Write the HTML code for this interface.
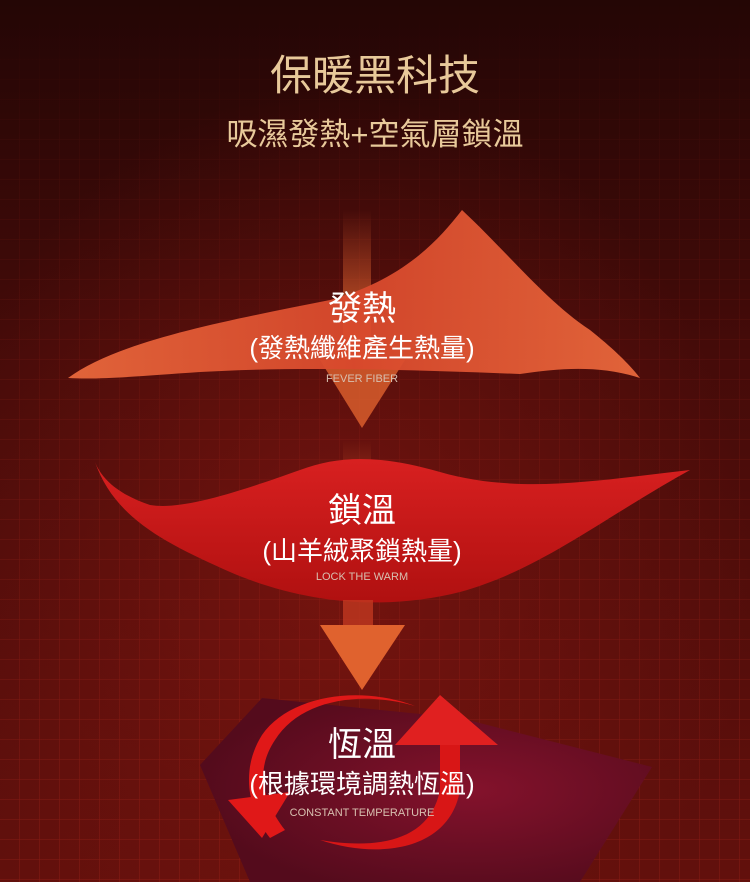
<!DOCTYPE html>
<html><head><meta charset="utf-8"><style>
html,body{margin:0;padding:0;width:750px;height:882px;overflow:hidden;background:#2a0605}
svg{display:block}
</style></head><body>
<svg width="750" height="882" viewBox="0 0 750 882" xmlns="http://www.w3.org/2000/svg">
<defs>
<linearGradient id="bg" x1="0" y1="0" x2="0" y2="1">
<stop offset="0" stop-color="#240605"/><stop offset="0.4" stop-color="#450b09"/><stop offset="1" stop-color="#62100c"/>
</linearGradient>
<radialGradient id="glow" cx="0.45" cy="0.65" r="0.55">
<stop offset="0" stop-color="#8a1812" stop-opacity="0.6"/><stop offset="1" stop-color="#8a1812" stop-opacity="0"/>
</radialGradient>
<pattern id="grid" width="20" height="20" patternUnits="userSpaceOnUse">
<path d="M20 0V20M0 20H20" stroke="#c03024" stroke-width="1" fill="none" opacity="0.4"/>
</pattern>
<linearGradient id="gridfade" x1="0" y1="0" x2="0" y2="1">
<stop offset="0" stop-color="#fff" stop-opacity="0"/><stop offset="0.2" stop-color="#fff" stop-opacity="0.3"/><stop offset="1" stop-color="#fff" stop-opacity="1"/>
</linearGradient>
<mask id="gm"><rect width="750" height="882" fill="url(#gridfade)"/></mask>
<linearGradient id="orange" x1="0" y1="0" x2="1" y2="0">
<stop offset="0" stop-color="#e8683c"/><stop offset="0.5" stop-color="#d8482c"/><stop offset="1" stop-color="#e8683c"/>
</linearGradient>
<linearGradient id="red" x1="0" y1="0" x2="0" y2="1">
<stop offset="0" stop-color="#d82020"/><stop offset="1" stop-color="#b01010"/>
</linearGradient>
<radialGradient id="plum" cx="0.6" cy="0.5" r="0.6">
<stop offset="0" stop-color="#84122c"/><stop offset="1" stop-color="#540b1c"/>
</radialGradient>
<linearGradient id="arr" x1="0" y1="0" x2="0" y2="1">
<stop offset="0" stop-color="#e06030" stop-opacity="0"/><stop offset="1" stop-color="#e06a30"/>
</linearGradient>
</defs>
<rect width="750" height="882" fill="url(#bg)"/>
<rect width="750" height="882" fill="url(#glow)"/>
<rect width="750" height="882" fill="url(#grid)" mask="url(#gm)"/>

<text x="375" y="90" text-anchor="middle" font-family="Liberation Sans,Noto Sans CJK TC,sans-serif" font-size="42" fill="#e8c99a">保暖黑科技</text>
<text x="375" y="145" text-anchor="middle" font-family="Liberation Sans,Noto Sans CJK TC,sans-serif" font-size="31" fill="#e8c99a">吸濕發熱+空氣層鎖溫</text>

<rect x="343" y="210" width="28" height="150" fill="url(#arr)"/>
<polygon points="320,360 405,360 362,428" fill="#e0622e" opacity="0.8"/>

<path d="M68 378 C120 340 230 320 330 300 C400 280 435 245 462 210 C510 255 545 300 590 330 C615 350 630 365 640 378 C600 365 560 368 520 374 C420 370 300 366 200 372 C140 376 100 380 68 378Z" fill="url(#orange)" opacity="0.95"/>

<rect x="343" y="440" width="28" height="80" fill="url(#arr)" opacity="0.6"/>

<path d="M95 462 C115 520 170 545 230 572 C300 602 380 612 460 592 C540 570 600 520 690 470 C600 480 520 495 440 472 C380 455 340 455 300 470 C230 495 180 510 150 505 C120 495 102 480 95 462Z" fill="url(#red)"/>

<rect x="343" y="600" width="30" height="30" fill="#c03820" opacity="0.8"/>
<polygon points="320,625 405,625 362,690" fill="#e0622e"/>

<polygon points="262,698 460,718 652,767 580,882 250,882 200,765" fill="url(#plum)"/>

<path d="M415 706 C360 690 300 700 275 740 C255 770 262 800 285 830 L270 838 C248 810 240 770 262 735 C290 695 360 685 415 706Z" fill="#e01818"/>
<polygon points="228,800 290,792 262,838" fill="#e01818"/>
<path d="M320 840 C380 850 430 840 440 790 L440 745 L460 745 L460 790 C450 850 380 860 320 840Z" fill="#d81616"/>
<polygon points="395,745 440,695 498,745" fill="#e02020"/>

<g font-family="Liberation Sans,Noto Sans CJK TC,sans-serif" fill="#fff" text-anchor="middle">
<text x="362" y="320" font-size="34">發熱</text>
<text x="362" y="357" font-size="26">(發熱纖維產生熱量)</text>
<text x="362" y="382" font-size="11" fill="#d8c0b0">FEVER FIBER</text>
<text x="362" y="522" font-size="34">鎖溫</text>
<text x="362" y="560" font-size="26">(山羊絨聚鎖熱量)</text>
<text x="362" y="580" font-size="11" fill="#d8c0b0">LOCK THE WARM</text>
<text x="362" y="756" font-size="34">恆溫</text>
<text x="362" y="793" font-size="26">(根據環境調熱恆溫)</text>
<text x="362" y="816" font-size="11" fill="#d8c0b0">CONSTANT TEMPERATURE</text>
</g>
</svg>
</body></html>
